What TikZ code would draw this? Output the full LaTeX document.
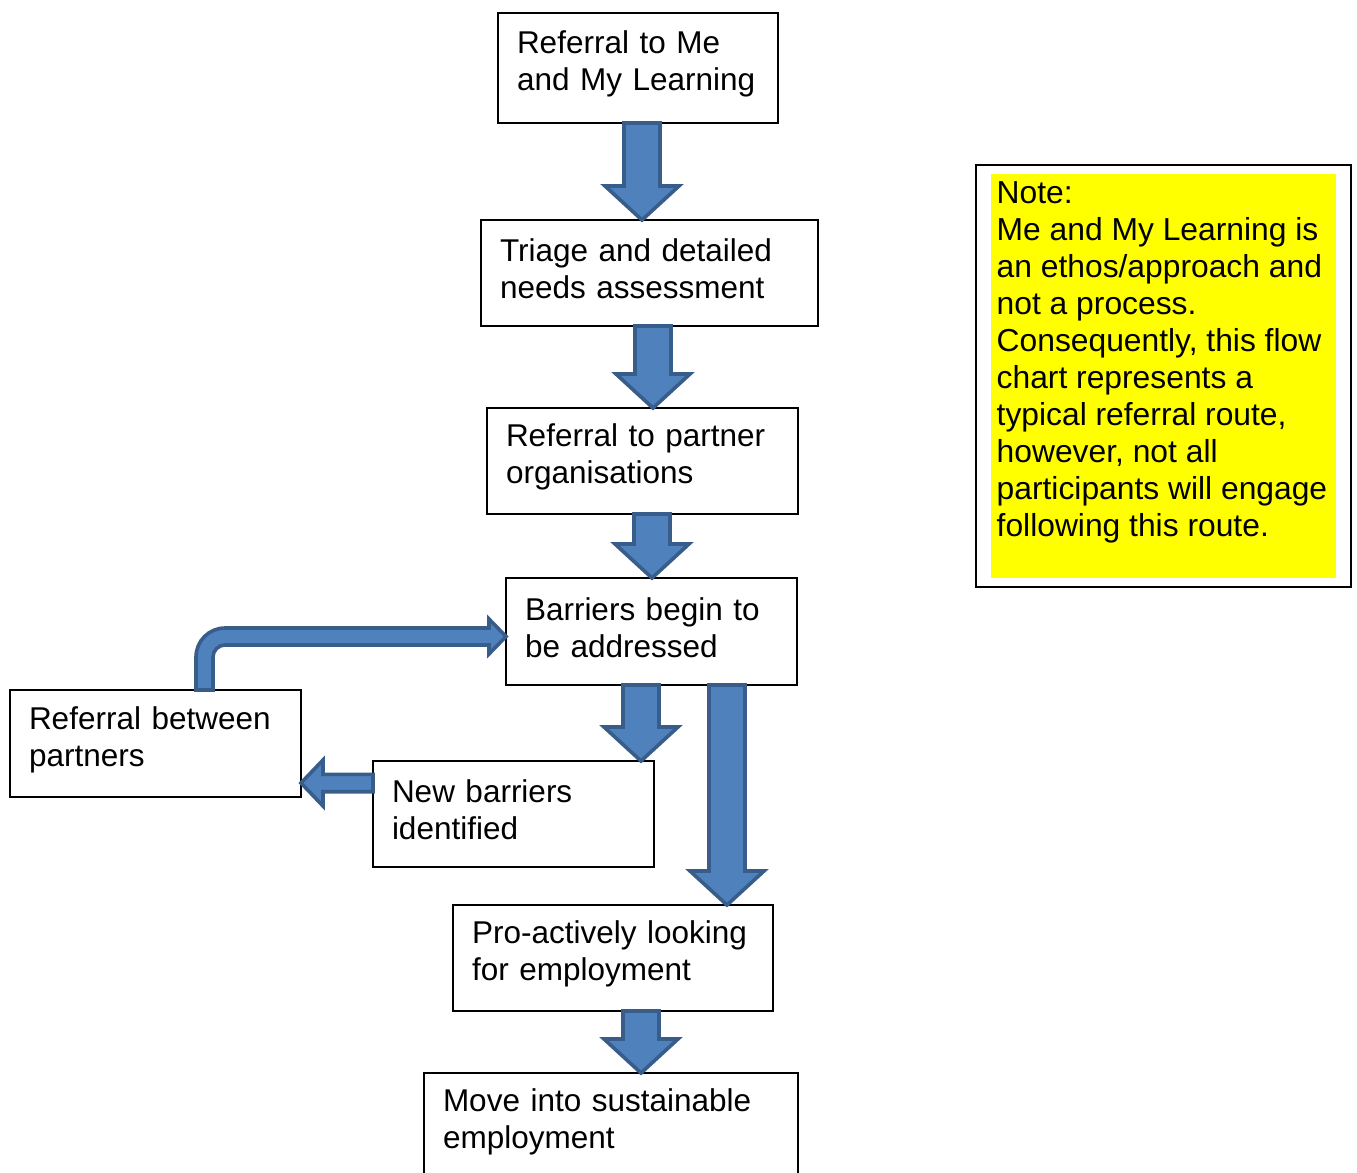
\documentclass[tikz,border=0pt]{standalone}
\usepackage{fontspec}
\setmainfont{Liberation Sans}
\usetikzlibrary{positioning,calc}
\definecolor{arrfill}{HTML}{4F81BD}
\definecolor{arrline}{HTML}{385D8A}
\definecolor{noteyellow}{RGB}{255,255,0}
\tikzset{
  box/.style={draw=black, line width=0.6pt, fill=white, align=left, inner xsep=9.5pt, inner ysep=0pt, outer sep=0pt,
    font=\fontsize{15.75pt}{18.5pt}\selectfont, minimum height=53pt,
    execute at end node={\par\vspace*{4pt}}},
  notetext/.style={align=left, inner xsep=2.5pt, inner ysep=3.7pt, font=\fontsize{15.9pt}{18.5pt}\selectfont},
  blk/.style={draw=arrline, fill=arrfill, line width=1.8pt, line join=miter},
  blkdown/.style={blk, to path={let \p1=(\tikztostart), \p2=(\tikztotarget) in
    (\x1-9pt,\y1) -- (\x1+9pt,\y1) -- (\x1+9pt,\y2+17pt) -- (\x1+18.5pt,\y2+17pt)
    -- (\x1,\y2) -- (\x1-18.5pt,\y2+17pt) -- (\x1-9pt,\y2+17pt) -- cycle}},
  blkleft/.style={blk, to path={let \p1=(\tikztostart), \p2=(\tikztotarget) in
    (\x1,\y1-4.35pt) -- (\x1,\y1+4.35pt) -- (\x2+11pt,\y1+4.35pt) -- (\x2+11pt,\y1+11.5pt)
    -- (\x2,\y1) -- (\x2+11pt,\y1-11.5pt) -- (\x2+11pt,\y1-4.35pt) -- cycle}},
  blkbent/.style={blk, to path={let \p1=(\tikztostart), \p2=(\tikztotarget) in
    (\x1-4.25pt,\y1) -- (\x1-4.25pt,\y2-10.25pt) arc[start angle=180, end angle=90, radius=14.5pt]
    -- (\x2-8.5pt,\y2+4.25pt) -- (\x2-8.5pt,\y2+8.75pt) -- (\x2,\y2) -- (\x2-8.5pt,\y2-8.75pt)
    -- (\x2-8.5pt,\y2-4.25pt) -- (\x1+10.25pt,\y2-4.25pt) arc[start angle=90, end angle=180, radius=6pt]
    -- (\x1+4.25pt,\y1) -- cycle}},
}

\begin{document}
\begin{tikzpicture}[x=0.5pt, y=-0.5pt]
\useasboundingbox (0,0) rectangle (1357,1173);
% main column
\node[box, text width=121pt, minimum height=55pt] (ref) at (638,68) {Referral to Me\\and My Learning};
\node[box, text width=149.5pt, below=48.5pt of ref, xshift=5.75pt] (tri) {Triage and detailed\\needs assessment};
\node[box, text width=136.5pt, below=41pt of tri, xshift=-3.5pt] (part) {Referral to partner\\organisations};
\node[box, text width=126.5pt, minimum height=53.5pt, below=32pt of part, xshift=4.5pt] (barr) {Barriers begin to\\be addressed};
\node[box, text width=121.5pt, below=38pt of barr, xshift=-69pt] (newb) {New barriers\\identified};
\node[box, text width=126.5pt, minimum height=53.5pt, left=36pt of newb, yshift=35.25pt] (betw) {Referral between\\partners};
\node[box, text width=141pt, below=110pt of barr, xshift=-19.25pt] (pro) {Pro-actively looking\\for employment};
\node[box, text width=168pt, below=31pt of pro, xshift=-1pt] (move) {Move into sustainable\\employment};
% note
\node[draw=black, line width=0.7pt, minimum width=187.5pt, minimum height=211pt] (notebox) at (1163.5,376) {};
\fill[noteyellow] ([shift={(8pt,-5pt)}]notebox.north west) rectangle ([shift={(-8pt,5pt)}]notebox.south east);
\node[notetext, anchor=north west] (notetxt) at ([shift={(8pt,-5pt)}]notebox.north west)
  {Note:\\Me and My Learning is\\an ethos/approach and\\not a process.\\Consequently, this flow\\chart represents a\\typical referral route,\\however, not all\\participants will engage\\following this route.};
% block arrows
\draw[blkdown] ([xshift=2pt]ref.south) to (tri.north);
\draw[blkdown] ([xshift=1.75pt]tri.south) to (part.north);
\draw[blkdown] ([xshift=4.75pt]part.south) to (barr.north);
\draw[blkdown] ([xshift=-5.25pt]barr.south) to (newb.north);
\draw[blkdown] ([xshift=37.75pt]barr.south) to (pro.north);
\draw[blkdown] ([xshift=14pt]pro.south) to (move.north);
\draw[blkleft] ([yshift=15.5pt]newb.west) to (betw.east);
\draw[blkbent] ([xshift=24.5pt]betw.north) to ([yshift=-2.5pt]barr.west);
\end{tikzpicture}
\end{document}
